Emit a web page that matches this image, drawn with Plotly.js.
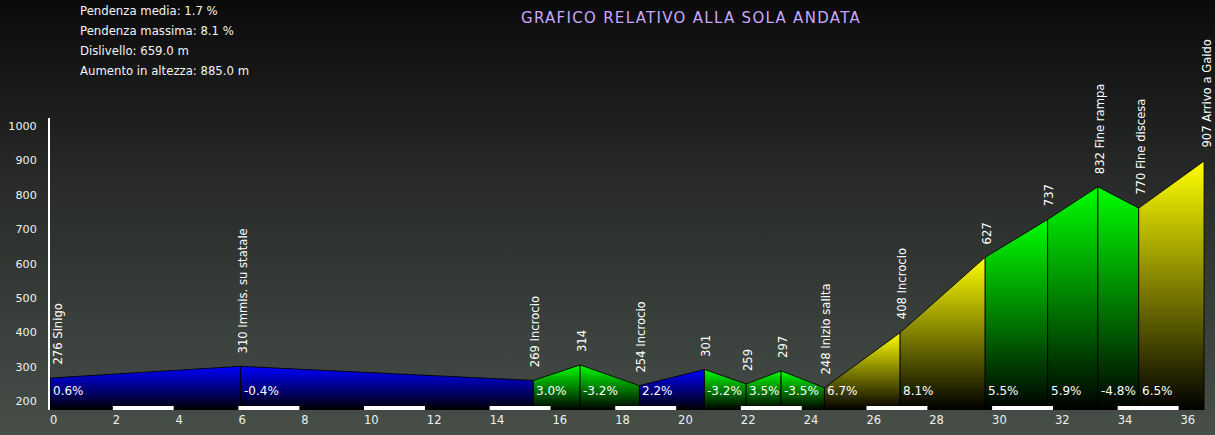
<!DOCTYPE html>
<html>
<head>
<meta charset="utf-8">
<script src="https://cdn.plot.ly/plotly-3.0.1.min.js"></script>
<style>
  html, body { margin: 0; padding: 0; }
  body { width: 1215px; height: 435px; overflow: hidden;
         background: linear-gradient(to bottom, #0a0a0a 0%, #2a2d2b 45%, #474f49 100%); }
  #chart { width: 1215px; height: 435px; }
  .gtitle { letter-spacing: 1.3px; }
</style>
</head>
<body>
<div id="chart"></div>
<script>
// ---- data ----
const distanceKm = [0, 6.07, 15.39, 16.88, 18.77, 20.84, 22.17, 23.28, 24.66, 27.07, 29.78, 31.77, 33.37, 34.67, 36.75];
const elevationM = [276, 310, 269, 314, 254, 301, 259, 297, 248, 408, 627, 737, 832, 770, 907];
const pointNames = ['Sinigo', 'Immis. su statale', 'Incrocio', '', 'Incrocio', '', '', '', 'Inizio salita', 'Incrocio', '', '', 'Fine rampa', 'Fine discesa', 'Arrivo a Gaido'];
const segmentGrades = ['0.6%', '-0.4%', '3.0%', '-3.2%', '2.2%', '-3.2%', '3.5%', '-3.5%', '6.7%', '8.1%', '5.5%', '5.9%', '-4.8%', '6.5%'];
const statsLines = ['Pendenza media: 1.7 %', 'Pendenza massima: 8.1 %', 'Dislivello: 659.0 m', 'Aumento in altezza: 885.0 m'];
const xTicks = [0, 2, 4, 6, 8, 10, 12, 14, 16, 18, 20, 22, 24, 26, 28, 30, 32, 34, 36];
const yTicks = [200, 300, 400, 500, 600, 700, 800, 900, 1000];
const chartTitle = 'GRAFICO RELATIVO ALLA SOLA ANDATA';

// ---- layout constants ----
const W = 1215, H = 435;
const M = {l: 50, r: 10, t: 118, b: 25};
const plotH = H - M.t - M.b;
const plotW = W - M.l - M.r;
const yRange = [183.1, 1032];
const xRange = [0, 36.78];
const pyPaper = px => (H - M.b - px) / plotH;   // pixel row -> paper y
const pxPaper = px => (px - M.l) / plotW;       // pixel col -> paper x

function colorFor(gradeStr) {
  const g = Math.abs(parseFloat(gradeStr));
  if (g < 2.5) return '#0000ff';
  if (g < 6) return '#00ff00';
  return '#ffff00';
}

const traces = [];
const base = yRange[0];
for (let i = 0; i < distanceKm.length - 1; i++) {
  const c = colorFor(segmentGrades[i]);
  traces.push({
    type: 'scatter', mode: 'lines',
    x: [distanceKm[i], distanceKm[i], distanceKm[i + 1], distanceKm[i + 1], distanceKm[i]],
    y: [base, elevationM[i], elevationM[i + 1], base, base],
    fill: 'toself',
    fillgradient: {type: 'vertical', colorscale: [[0, '#000000'], [1, c]]},
    line: {color: 'rgba(0,0,0,0.85)', width: 1},
    hoverinfo: 'skip', showlegend: false
  });
}

const annotations = [];
// waypoint labels (rotated)
for (let i = 0; i < distanceKm.length; i++) {
  const txt = pointNames[i] ? elevationM[i] + ' ' + pointNames[i] : String(elevationM[i]);
  annotations.push({
    x: distanceKm[i], y: elevationM[i], xref: 'x', yref: 'y',
    text: txt, textangle: -90, showarrow: false,
    xanchor: 'center', yanchor: 'bottom',
    xshift: i === 0 ? 8 : 2, yshift: 11,
    font: {family: 'DejaVu Sans', size: 11.6, color: '#ffffff'}
  });
}
// grade labels
for (let i = 0; i < segmentGrades.length; i++) {
  annotations.push({
    x: distanceKm[i], y: pyPaper(391), xref: 'x', yref: 'paper',
    text: segmentGrades[i], showarrow: false,
    xanchor: 'left', yanchor: 'middle', xshift: 1,
    font: {family: 'DejaVu Sans', size: 12, color: '#ffffff'}
  });
}
// stats lines
statsLines.forEach((s, k) => {
  annotations.push({
    x: pxPaper(78), y: pyPaper(11 + k * 20), xref: 'paper', yref: 'paper',
    text: s, showarrow: false, xanchor: 'left', yanchor: 'middle',
    font: {family: 'DejaVu Sans', size: 11.7, color: '#f4f4f4'}
  });
});

// scale bars below the profile (every other interval)
const shapes = xTicks.filter((t, i) => i % 2 === 1 && t < xRange[1]).map(t => ({
  type: 'rect', xref: 'x', yref: 'paper', x0: t, x1: t + 1.94,
  ysizemode: 'pixel', yanchor: 0, y0: 0, y1: 4,
  fillcolor: '#ffffff', line: {width: 0}, layer: 'above'
}));

const layout = {
  width: W, height: H,
  margin: M,
  paper_bgcolor: 'rgba(0,0,0,0)',
  plot_bgcolor: 'rgba(0,0,0,0)',
  font: {family: 'DejaVu Sans', size: 12, color: '#f0f0f0'},
  title: {
    text: chartTitle, x: 691 / W, xref: 'container', xanchor: 'center',
    y: 1 - 18 / H, yref: 'container', yanchor: 'middle',
    font: {family: 'DejaVu Sans', size: 15, color: '#c8a8ff'}
  },
  xaxis: {
    range: xRange, tickvals: xTicks, ticktext: xTicks.map(String),
    showgrid: false, zeroline: false, showline: false, ticks: '',
    ticklabelposition: 'outside right', ticklabelstandoff: 1,
    tickfont: {family: 'DejaVu Sans', size: 11.5, color: '#f0f0f0'},
    fixedrange: true
  },
  yaxis: {
    range: yRange, tickvals: yTicks, ticktext: yTicks.map(String),
    showgrid: false, zeroline: false, showline: true, linecolor: '#ffffff', linewidth: 2,
    ticks: '', ticklabelstandoff: 9, ticklabelshift: -3,
    tickfont: {family: 'DejaVu Sans', size: 11.2, color: '#f0f0f0'},
    fixedrange: true
  },
  annotations: annotations,
  shapes: shapes,
  showlegend: false
};

Plotly.newPlot('chart', traces, layout, {staticPlot: true, displayModeBar: false});
</script>
</body>
</html>
